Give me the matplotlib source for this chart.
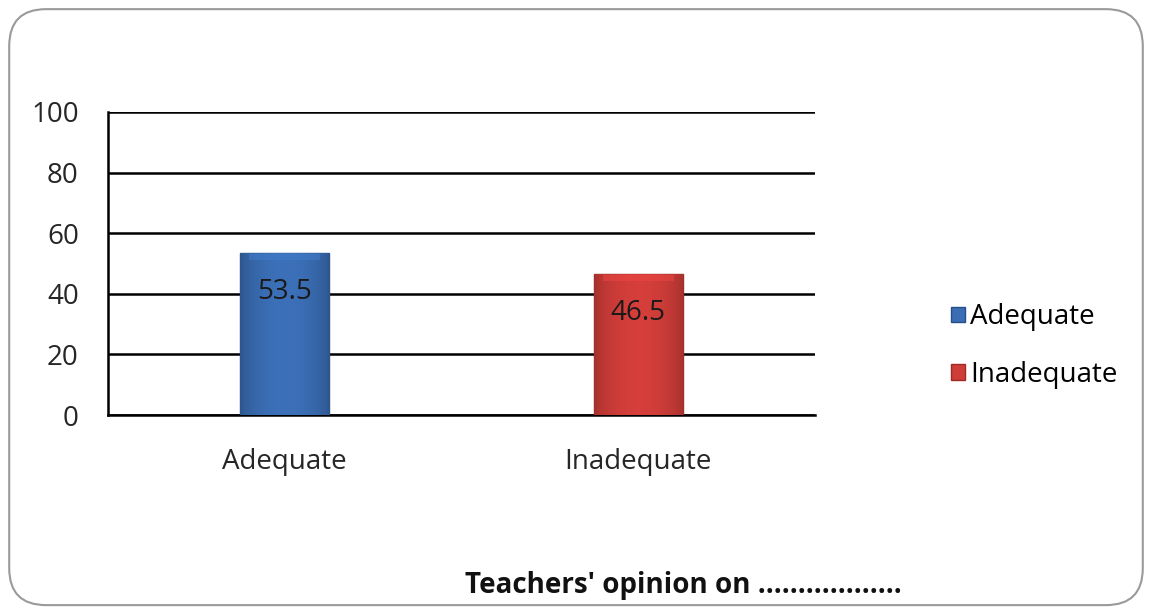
import numpy as np
import matplotlib
matplotlib.use('Agg')
import matplotlib.pyplot as plt
from matplotlib.patches import FancyBboxPatch, Patch

categories = ['Adequate', 'Inadequate']
values = [53.5, 46.5]
yticks = [0, 20, 40, 60, 80, 100]
bar_colors = ['#3A6DB3', '#CF3D39']
edge_colors = ['#24508A', '#9E2A27']

plt.rcParams['font.family'] = ['Open Sans', 'DejaVu Sans']

fig = plt.figure(figsize=(11.52, 6.10), dpi=100)

# rounded frame around the whole chart
frame = FancyBboxPatch((0.008, 0.008), 0.984, 0.977, boxstyle='round,pad=0,rounding_size=0.032',
                       transform=fig.transFigure, facecolor='white', edgecolor='#9A9A9A',
                       linewidth=1.5, mutation_aspect=1152 / 610, zorder=-1)
fig.patches.append(frame)

ax = fig.add_axes([108 / 1152, 1 - 415 / 610, 707 / 1152, 303 / 610])
ax.set_facecolor('none')
ax.set_xlim(-0.5, 1.5)
ax.set_ylim(0, 100)

x = np.arange(len(categories))
bars = ax.bar(x, values, width=0.252, color=bar_colors, edgecolor=edge_colors, linewidth=1, zorder=3)

# shade each bar with a soft horizontal gradient
for b, c in zip(bars, bar_colors):
    x0, y0 = b.get_x(), b.get_y()
    w, h = b.get_width(), b.get_height()
    base = np.array(matplotlib.colors.to_rgb(c))
    t = np.linspace(0, 1, 64)
    shade = 0.78 + 0.25 * np.sin(np.pi * t) ** 0.6
    img = np.clip(base[None, :] * shade[:, None], 0, 1)[None, :, :]
    im = ax.imshow(img, extent=[x0, x0 + w, y0, y0 + h], aspect='auto', zorder=3.5)
    im.set_clip_path(b)
    top = np.clip(base * 1.15, 0, 1)
    ax.fill_between([x0 + w * 0.1, x0 + w * 0.9], y0 + h - 2.2, y0 + h - 0.3, color=top,
                    alpha=0.5, zorder=3.6, linewidth=0)

for xi, v in zip(x, values):
    ax.annotate(f'{v}', (xi, v), xytext=(0, -28), textcoords='offset points',
                ha='center', va='center', fontsize=20, color='#1A1A1A', zorder=5)

ax.set_yticks(yticks)
ax.set_xticks(x)
ax.set_xticklabels(categories)
ax.yaxis.grid(True, color='black', linewidth=1.8, zorder=1)
ax.set_axisbelow(True)
for s in ['top', 'right']:
    ax.spines[s].set_visible(False)
ax.spines['left'].set_linewidth(1.8)
ax.spines['bottom'].set_linewidth(1.8)
ax.tick_params(length=0, labelsize=20, colors='#262626')
ax.tick_params(axis='y', pad=21)
ax.tick_params(axis='x', pad=24)

handles = [Patch(facecolor=c, edgecolor=e) for c, e in zip(bar_colors, edge_colors)]
fig.legend(handles, categories, loc='center left', bbox_to_anchor=(926 / 1152, 1 - 346 / 610),
           frameon=False, fontsize=20, handlelength=0.5, handleheight=0.5,
           handletextpad=0.2, labelspacing=1.05)

fig.text(683 / 1152, 1 - 585 / 610, "Teachers' opinion on ..................",
         ha='center', va='center', fontsize=20, fontweight='bold', color='#111111')

fig.savefig('out.png', dpi=100)
